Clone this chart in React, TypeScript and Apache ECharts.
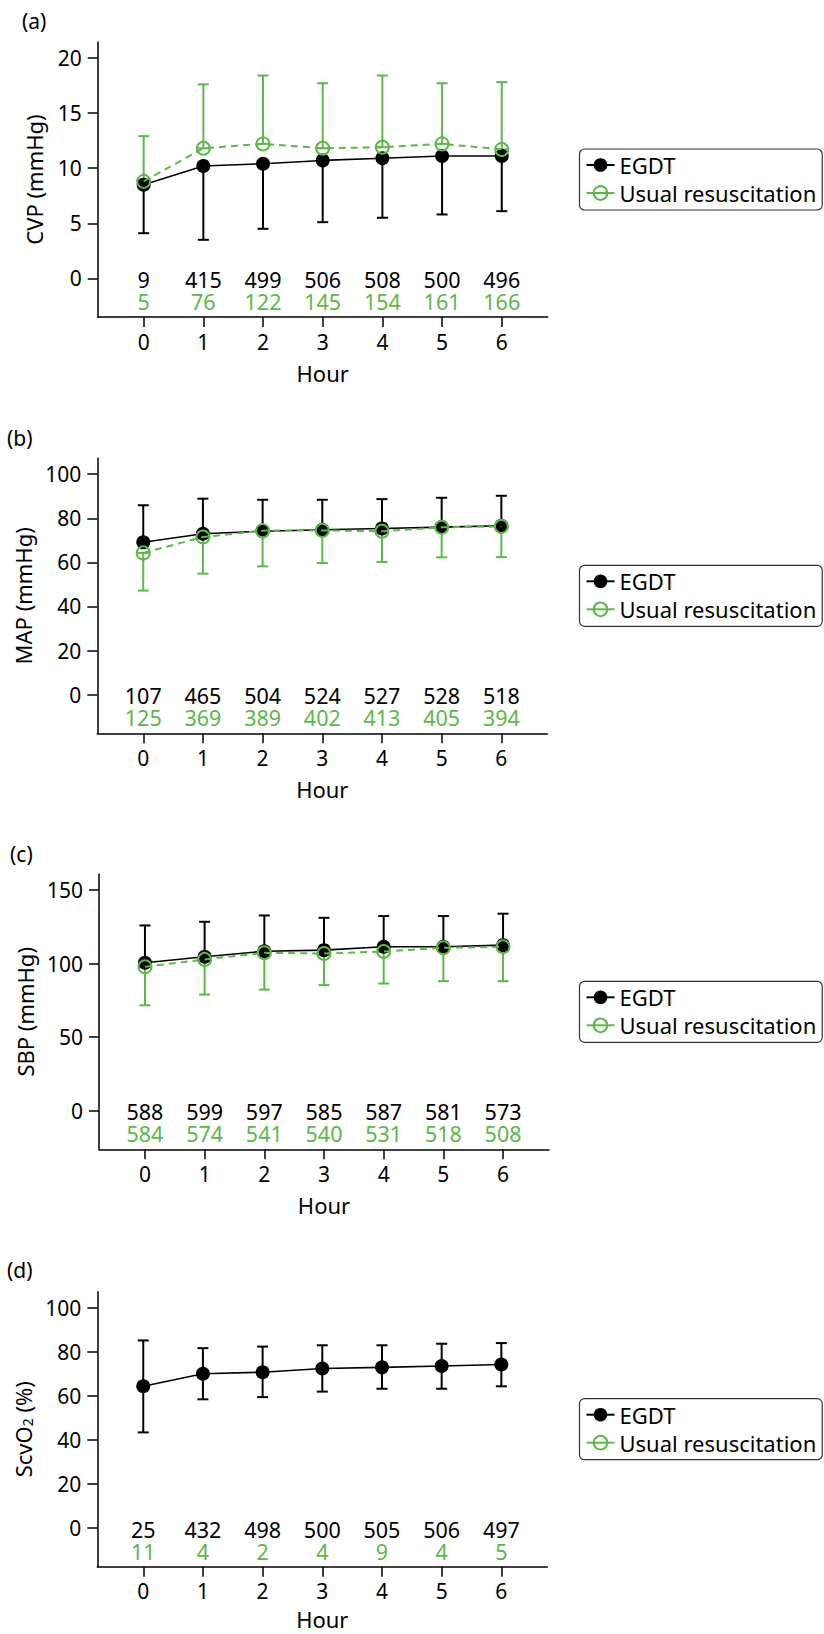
import React, { useEffect, useRef } from 'react';
import * as echarts from 'echarts';

// ---------- data ----------
const hours = [0, 1, 2, 3, 4, 5, 6];

// (a) CVP
const cvpEgdt = [8.5, 10.2, 10.4, 10.7, 10.9, 11.1, 11.1];
const cvpEgdtLow = [4.1, 3.5, 4.5, 5.1, 5.5, 5.8, 6.1];
const cvpUsual = [8.8, 11.8, 12.2, 11.8, 11.9, 12.2, 11.7];
const cvpUsualHigh = [12.9, 17.6, 18.4, 17.7, 18.4, 17.7, 17.8];
const cvpNEgdt = [9, 415, 499, 506, 508, 500, 496];
const cvpNUsual = [5, 76, 122, 145, 154, 161, 166];
const cvpTicks = [0, 5, 10, 15, 20];

// (b) MAP
const mapEgdt = [69.1, 73.0, 74.1, 74.8, 75.4, 76.0, 76.6];
const mapEgdtHigh = [85.9, 88.9, 88.4, 88.4, 88.7, 89.3, 90.2];
const mapUsual = [64.3, 71.5, 74.4, 74.5, 74.1, 75.9, 76.3];
const mapUsualLow = [47.2, 54.9, 58.2, 59.7, 60.2, 62.3, 62.4];
const mapNEgdt = [107, 465, 504, 524, 527, 528, 518];
const mapNUsual = [125, 369, 389, 402, 413, 405, 394];
const mapTicks = [0, 20, 40, 60, 80, 100];

// (c) SBP
const sbpEgdt = [100.6, 104.7, 108.5, 109.2, 111.5, 111.5, 112.6];
const sbpEgdtHigh = [126.0, 128.5, 132.8, 131.2, 132.4, 132.4, 134.0];
const sbpUsual = [97.9, 102.9, 107.4, 106.9, 108.3, 110.8, 111.5];
const sbpUsualLow = [71.7, 79.0, 82.4, 85.4, 86.5, 88.1, 88.1];
const sbpNEgdt = [588, 599, 597, 585, 587, 581, 573];
const sbpNUsual = [584, 574, 541, 540, 531, 518, 508];
const sbpTicks = [0, 50, 100, 150];

// (d) ScvO2
const scvEgdt = [64.3, 70.0, 70.7, 72.4, 72.9, 73.5, 74.2];
const scvEgdtHigh = [85.1, 81.6, 82.3, 82.9, 82.9, 83.6, 83.9];
const scvEgdtLow = [43.4, 58.4, 59.4, 61.9, 63.2, 63.2, 64.3];
const scvNEgdt = [25, 432, 498, 500, 505, 506, 497];
const scvNUsual = [11, 4, 2, 4, 9, 4, 5];
const scvTicks = [0, 20, 40, 60, 80, 100];

const panelLabels = ['(a)', '(b)', '(c)', '(d)'];
const yNames = ['CVP (mmHg)', 'MAP (mmHg)', 'SBP (mmHg)', 'ScvO{sub|2} (%)'];
const seriesNames = ['EGDT', 'Usual resuscitation'];
const xName = 'Hour';

// ---------- style ----------
const GREEN = '#5cb848';
const BLACK = '#000000';
const FONT = '"Noto Sans", sans-serif';

type Panel = {
  ticks: number[];
  egdt: number[];
  egdtLow: number[] | null;
  egdtHigh: number[] | null;
  usual: number[] | null;
  usualLow: number[] | null;
  usualHigh: number[] | null;
  nEgdt: number[];
  nUsual: number[];
};

const panels: Panel[] = [
  { ticks: cvpTicks, egdt: cvpEgdt, egdtLow: cvpEgdtLow, egdtHigh: null, usual: cvpUsual, usualLow: null, usualHigh: cvpUsualHigh, nEgdt: cvpNEgdt, nUsual: cvpNUsual },
  { ticks: mapTicks, egdt: mapEgdt, egdtLow: null, egdtHigh: mapEgdtHigh, usual: mapUsual, usualLow: mapUsualLow, usualHigh: null, nEgdt: mapNEgdt, nUsual: mapNUsual },
  { ticks: sbpTicks, egdt: sbpEgdt, egdtLow: null, egdtHigh: sbpEgdtHigh, usual: sbpUsual, usualLow: sbpUsualLow, usualHigh: null, nEgdt: sbpNEgdt, nUsual: sbpNUsual },
  { ticks: scvTicks, egdt: scvEgdt, egdtLow: scvEgdtLow, egdtHigh: scvEgdtHigh, usual: null, usualLow: null, usualHigh: null, nEgdt: scvNEgdt, nUsual: scvNUsual },
];

// layout
const gridTops = [42, 458.3, 874.3, 1291.7];
const gridLefts = [97.7, 97.3, 99, 97.3];
const GRID_W = 450;
const GRID_H = 275;
const titleTops = [10, 427, 843, 1259];
const titleLefts = [22, 7, 10, 7];
const xNameGaps = [47, 47, 47, 43];

function errorBars(idx: number, center: number[], lo: number[] | null, hi: number[] | null, color: string, z: number) {
  const data = hours.map((h, i) => [h, lo ? lo[i] : center[i], hi ? hi[i] : center[i]]);
  return {
    type: 'custom',
    xAxisIndex: idx,
    yAxisIndex: idx,
    z,
    silent: true,
    data,
    renderItem: (params: any, api: any) => {
      const x = api.value(0);
      const p1 = api.coord([x, api.value(1)]);
      const p2 = api.coord([x, api.value(2)]);
      const hw = 5.5;
      const st = { stroke: color, lineWidth: 2 };
      return {
        type: 'group',
        children: [
          { type: 'line', shape: { x1: p1[0], y1: p1[1], x2: p2[0], y2: p2[1] }, style: st },
          { type: 'line', shape: { x1: p1[0] - hw, y1: p1[1], x2: p1[0] + hw, y2: p1[1] }, style: st },
          { type: 'line', shape: { x1: p2[0] - hw, y1: p2[1], x2: p2[0] + hw, y2: p2[1] }, style: st },
        ],
      };
    },
  };
}

function counts(idx: number, n: number[], color: string, offset: number) {
  return {
    type: 'custom',
    xAxisIndex: idx,
    yAxisIndex: idx,
    z: 2,
    silent: true,
    data: hours.map((h, i) => [h, n[i]]),
    renderItem: (params: any, api: any) => {
      const p = api.coord([api.value(0), 0]);
      return {
        type: 'text',
        x: p[0],
        y: p[1] + offset,
        style: {
          text: String(api.value(1)),
          fill: color,
          fontSize: 21.5,
          lineHeight: 20,
          fontFamily: FONT,
          align: 'center',
          verticalAlign: 'middle',
        },
      };
    },
  };
}

function buildOption() {
  const grid: any[] = [];
  const xAxis: any[] = [];
  const yAxis: any[] = [];
  const series: any[] = [];
  const legend: any[] = [];
  const title: any[] = [];

  panels.forEach((p, i) => {
    const top = p.ticks[p.ticks.length - 1];
    grid.push({ left: gridLefts[i], top: gridTops[i], width: GRID_W, height: GRID_H, containLabel: false, outerBoundsMode: 'none' });
    title.push({
      text: panelLabels[i],
      left: titleLefts[i],
      top: titleTops[i],
      padding: 0,
      textStyle: { fontSize: 21, fontWeight: 'normal', color: BLACK, fontFamily: FONT },
    });
    const axisLineStyle = { color: BLACK, width: 1.5 };
    xAxis.push({
      type: 'value',
      gridIndex: i,
      min: -0.77,
      max: 6.77,
      axisLine: { show: true, onZero: false, lineStyle: axisLineStyle },
      axisTick: { show: true, length: 10, customValues: hours, lineStyle: axisLineStyle },
      axisLabel: { show: true, customValues: hours, margin: 14, fontSize: 21, color: BLACK, fontFamily: FONT },
      splitLine: { show: false },
      name: xName,
      nameLocation: 'middle',
      nameGap: xNameGaps[i],
      nameTextStyle: { fontSize: 22, lineHeight: 18, color: BLACK, fontFamily: FONT },
    });
    yAxis.push({
      type: 'value',
      gridIndex: i,
      min: -0.175 * top,
      max: 1.072 * top,
      axisLine: { show: true, onZero: false, lineStyle: axisLineStyle },
      axisTick: { show: true, length: 10, customValues: p.ticks, lineStyle: axisLineStyle },
      axisLabel: { show: true, customValues: p.ticks, margin: 16, fontSize: 21, color: BLACK, fontFamily: FONT },
      splitLine: { show: false },
      name: yNames[i],
      nameLocation: 'middle',
      nameGap: 53,
      nameTextStyle: {
        fontSize: 22,
        color: BLACK,
        fontFamily: FONT,
        rich: { sub: { fontSize: 14, fontFamily: FONT, color: BLACK, verticalAlign: 'bottom' } },
      },
    });

    legend.push({
      orient: 'vertical',
      left: 579.5,
      top: gridTops[i] + GRID_H / 2 - 30.5,
      data: seriesNames,
      padding: [5, 6, 6, 6],
      itemGap: 6,
      itemWidth: 28,
      itemHeight: 17,
      borderColor: '#333',
      borderWidth: 1.2,
      borderRadius: 5,
      lineStyle: { type: 'solid' },
      selectedMode: false,
      textStyle: { fontSize: 22, color: BLACK, fontFamily: FONT, lineHeight: 22 },
    });

    // error bars
    if (p.egdtLow || p.egdtHigh) series.push(errorBars(i, p.egdt, p.egdtLow, p.egdtHigh, BLACK, 1));
    if (p.usual && (p.usualLow || p.usualHigh)) series.push(errorBars(i, p.usual, p.usualLow, p.usualHigh, GREEN, 1));

    series.push({
      type: 'line',
      name: seriesNames[0],
      xAxisIndex: i,
      yAxisIndex: i,
      z: 3,
      data: hours.map((h, k) => [h, p.egdt[k]]),
      symbol: 'circle',
      symbolSize: 14,
      itemStyle: { color: BLACK },
      lineStyle: { color: BLACK, width: 1.6 },
      emphasis: { disabled: true },
    });
    series.push({
      type: 'line',
      name: seriesNames[1],
      xAxisIndex: i,
      yAxisIndex: i,
      z: 4,
      data: p.usual ? hours.map((h, k) => [h, (p.usual as number[])[k]]) : [],
      symbol: 'circle',
      symbolSize: 13,
      itemStyle: { color: 'rgba(0,0,0,0)', borderColor: GREEN, borderWidth: 2 },
      lineStyle: { color: GREEN, width: 2, type: [7, 5] },
      emphasis: { disabled: true },
    });

    series.push(counts(i, p.nEgdt, BLACK, 1));
    series.push(counts(i, p.nUsual, GREEN, 23));
  });

  return {
    animation: false,
    backgroundColor: '#ffffff',
    textStyle: { fontFamily: FONT },
    title,
    grid,
    xAxis,
    yAxis,
    legend,
    series,
  };
}

export default function App() {
  const ref = useRef<HTMLDivElement>(null);
  useEffect(() => {
    if (!ref.current) return;
    const chart = echarts.init(ref.current, null, { renderer: 'svg' });
    chart.setOption(buildOption() as any);
    return () => chart.dispose();
  }, []);
  return (
    <div
      ref={ref}
      style={{ position: 'absolute', left: 0, top: 0, width: 824, height: 1634, background: '#fff' }}
    />
  );
}
